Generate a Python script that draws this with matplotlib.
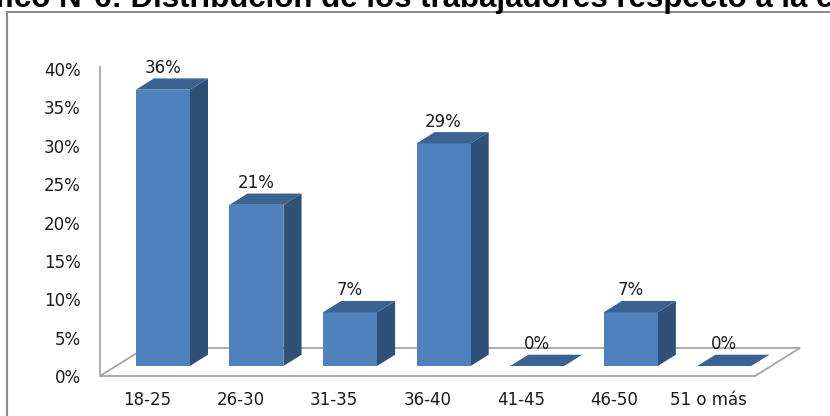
import matplotlib
matplotlib.use("Agg")
import matplotlib.pyplot as plt
from matplotlib.patches import Polygon, Rectangle
from matplotlib.ticker import PercentFormatter

# datos del gráfico
categorias = ["18-25", "26-30", "31-35", "36-40", "41-45", "46-50", "51 o más"]
porcentajes = [36, 21, 7, 29, 0, 7, 0]
yticks = [0, 5, 10, 15, 20, 25, 30, 35, 40]
titulo = "Gráfico N°6: Distribución de los trabajadores respecto a la edad"

# colores estilo Excel
c_frente = "#4F81BD"
c_tapa = "#3A6391"
c_lado = "#2F5077"
c_piso = "#A6A6A6"

# profundidad oblicua (unidades de datos por unidad de profundidad)
DX = 0.481
DY = 3.65
D1, D2 = 0.357, 0.76   # profundidad frente / fondo de las barras
ANCHO = 0.577

W, H = 830, 416
fig = plt.figure(figsize=(W / 100, H / 100), dpi=100)
plt.rcParams['font.family'] = ['DejaVu Sans']

ax = fig.add_axes([100 / W, 1 - 376 / H, 655 / W, 307 / H])
ax.set_xlim(0, len(categorias))
ax.set_ylim(0, 40)
for s in ax.spines.values():
    s.set_visible(False)


def proj(x, v, d):
    return (x + d * DX, v + d * DY)


# piso
n = len(categorias)
piso = [proj(0, 0, 0), proj(n, 0, 0), proj(n, 0, 1), proj(0, 0, 1)]
ax.add_patch(Polygon(piso, closed=True, fill=False, ec=c_piso, lw=1.3,
                     zorder=1, clip_on=False))
# eje vertical
ax.plot([0, 0], [0, 40.3], color=c_piso, lw=1.3, clip_on=False, zorder=1)

for i, v in enumerate(porcentajes):
    xc = i + 0.5
    xl, xr = xc - ANCHO / 2, xc + ANCHO / 2
    frente = [proj(xl, 0, D1), proj(xr, 0, D1), proj(xr, v, D1), proj(xl, v, D1)]
    tapa = [proj(xl, v, D1), proj(xr, v, D1), proj(xr, v, D2), proj(xl, v, D2)]
    lado = [proj(xr, 0, D1), proj(xr, 0, D2), proj(xr, v, D2), proj(xr, v, D1)]
    if v > 0:
        ax.add_patch(Polygon(lado, closed=True, fc=c_lado, ec="none", zorder=3, clip_on=False))
        ax.add_patch(Polygon(frente, closed=True, fc=c_frente, ec="none", zorder=3, clip_on=False))
    ax.add_patch(Polygon(tapa, closed=True, fc=c_tapa, ec="none", zorder=3, clip_on=False))
    lx, ly = proj(xc, v, D2)
    ax.text(xc + D1 * DX, ly + 0.2, f"{v}%", ha="center", va="bottom",
            fontsize=12, color="#1a1a1a", zorder=4)

ax.set_yticks(yticks)
ax.yaxis.set_major_formatter(PercentFormatter(decimals=0))
ax.set_xticks([i + 0.5 for i in range(n)])
ax.set_xticklabels(categorias)
ax.tick_params(axis="both", length=0, labelsize=12, labelcolor="#1a1a1a")
ax.tick_params(axis="y", pad=14)
ax.tick_params(axis="x", pad=11)

# marco del gráfico
fig.patches.append(Rectangle((7 / W, -0.1), 1.2, 1.1 - 12 / H,
                             transform=fig.transFigure, fill=False,
                             ec="#8C8C8C", lw=1.5))

fig.text(0.5, 1 - 7 / H, titulo, ha="center", va="baseline",
         fontsize=22.5, fontweight="bold", family="Liberation Sans")

fig.savefig("out.png", dpi=100)
